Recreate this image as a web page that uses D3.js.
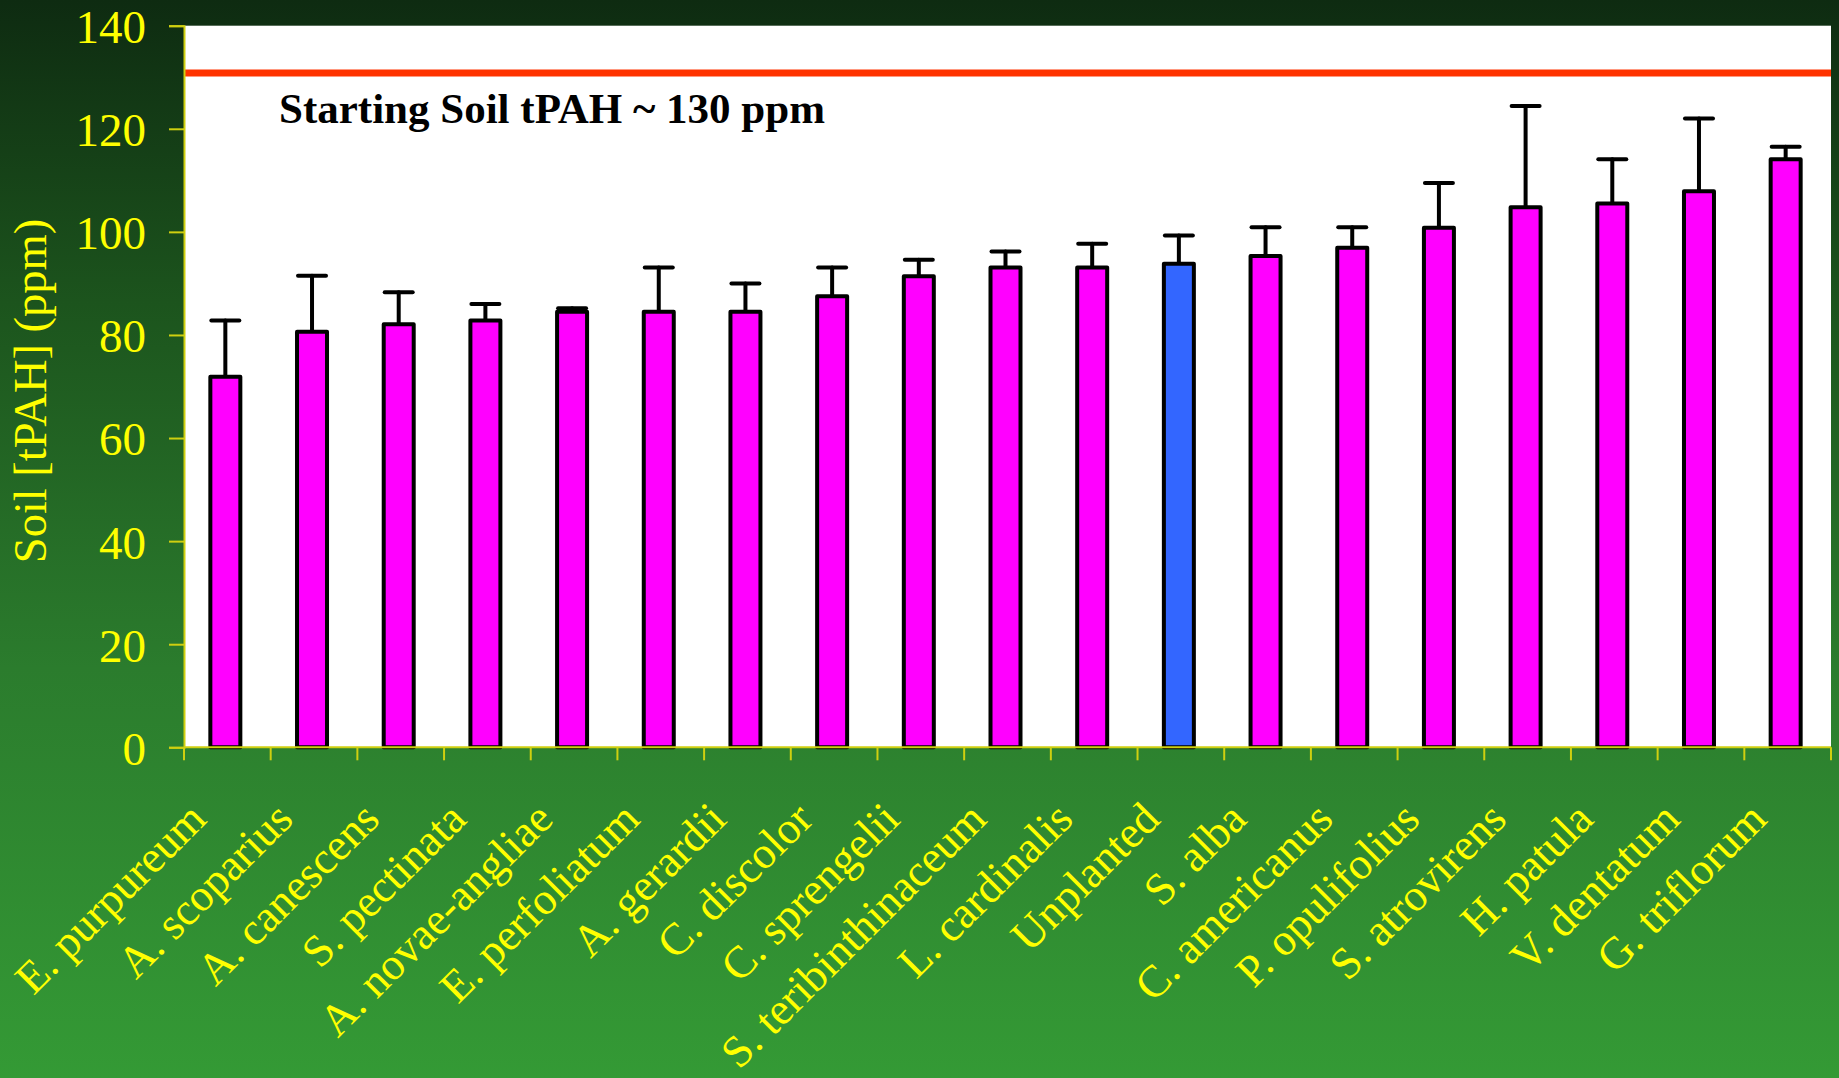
<!DOCTYPE html>
<html>
<head>
<meta charset="utf-8">
<script src="https://cdn.jsdelivr.net/npm/d3@7"></script>
<style>
  html, body { margin: 0; padding: 0; overflow: hidden; background: #1d561d; }
  svg { display: block; }
</style>
</head>
<body>
<svg id="chart" width="1839" height="1078"></svg>
<script>
// Plant species (and the unplanted control), sorted by remaining soil tPAH
const species = [
  "E. purpureum", "A. scoparius", "A. canescens", "S. pectinata",
  "A. novae-angliae", "E. perfoliatum", "A. gerardii", "C. discolor",
  "C. sprengelii", "S. teribinthinaceum", "L. cardinalis", "Unplanted",
  "S. alba", "C. americanus", "P. opulifolius", "S. atrovirens",
  "H. patula", "V. dentatum", "G. triflorum"
];
// Mean soil tPAH (ppm) after treatment
const meanTPAH = [71.9, 80.6, 82.1, 82.8, 84.5, 84.5, 84.5, 87.5, 91.4, 93.1,
                  93.1, 93.8, 95.3, 96.9, 100.8, 104.8, 105.5, 107.9, 114.1];
// Upper end of the error bar (mean + error), ppm
const upperTPAH = [82.8, 91.5, 88.3, 86.0, 85.2, 93.1, 90.0, 93.1, 94.6, 96.2,
                   97.7, 99.3, 100.9, 100.9, 109.5, 124.4, 114.1, 122.0, 116.5];
const controlName = "Unplanted";
const startingTPAH = 130.8;
const startingLabel = "Starting Soil tPAH ~ 130 ppm";
const yTicks = [0, 20, 40, 60, 80, 100, 120, 140];
const yTitle = "Soil [tPAH] (ppm)";

const svg = d3.select("#chart");
const W = 1839, H = 1078;
const plot = { left: 184, right: 1831, top: 25.7, bottom: 747.3 };

// Background gradient: dark green at the top fading to brighter green
const defs = svg.append("defs");
const grad = defs.append("linearGradient")
  .attr("id", "bg").attr("x1", 0).attr("y1", 0).attr("x2", 0).attr("y2", 1);
[[0, "#0e2b11"], [0.28, "#1c541d"], [0.62, "#2b7c2d"], [1, "#349a35"]]
  .forEach(([o, c]) => grad.append("stop").attr("offset", o).attr("stop-color", c));
svg.append("rect").attr("width", W).attr("height", H).attr("fill", "url(#bg)");

const x = d3.scaleBand().domain(species).range([plot.left, plot.right]).padding(0);
const y = d3.scaleLinear().domain([0, 140]).range([plot.bottom, plot.top]);

// White plotting area
svg.append("rect")
  .attr("x", plot.left).attr("y", y(140))
  .attr("width", plot.right - plot.left).attr("height", y(0) - y(140))
  .attr("fill", "#ffffff");

// Starting soil concentration reference line
svg.append("line")
  .attr("x1", plot.left).attr("x2", plot.right)
  .attr("y1", y(startingTPAH)).attr("y2", y(startingTPAH))
  .attr("stroke", "#ff3300").attr("stroke-width", 7);

svg.append("text")
  .attr("x", 279).attr("y", 123)
  .attr("font-family", "'Liberation Serif', 'Times New Roman', serif")
  .attr("font-weight", "bold").attr("font-size", 43)
  .attr("fill", "#000").text(startingLabel);

const barW = 30;
const cx = d => x(d) + x.bandwidth() / 2 - 2;
const rows = species.map((s, i) => ({ s, v: meanTPAH[i], u: upperTPAH[i] }));

// Error bars (upper only)
const err = svg.append("g").attr("stroke", "#000").attr("stroke-width", 4)
  .attr("stroke-linecap", "round");
err.selectAll("line.stem").data(rows).join("line").attr("class", "stem")
  .attr("x1", d => cx(d.s)).attr("x2", d => cx(d.s))
  .attr("y1", d => y(d.v)).attr("y2", d => y(d.u));
err.selectAll("line.cap").data(rows).join("line").attr("class", "cap")
  .attr("x1", d => cx(d.s) - 14).attr("x2", d => cx(d.s) + 14)
  .attr("y1", d => y(d.u)).attr("y2", d => y(d.u));

// Bars
svg.append("g").selectAll("rect").data(rows).join("rect")
  .attr("x", d => cx(d.s) - barW / 2)
  .attr("y", d => y(d.v))
  .attr("width", barW)
  .attr("height", d => y(0) - y(d.v))
  .attr("fill", d => d.s === controlName ? "#3366ff" : "#ff00ff")
  .attr("stroke", "#000").attr("stroke-width", 4)
  .attr("stroke-linejoin", "round");

// Y axis
const axisColor = "#cfcf10";
const yAxis = svg.append("g").attr("transform", `translate(${plot.left},0)`)
  .call(d3.axisLeft(y).tickValues(yTicks).tickSize(15).tickPadding(23).tickFormat(d3.format("d")));
yAxis.select(".domain").attr("stroke", axisColor).attr("stroke-width", 2);
yAxis.selectAll(".tick line").attr("stroke", axisColor).attr("stroke-width", 2);
yAxis.selectAll(".tick text")
  .attr("fill", "#ffff00")
  .attr("font-family", "'Liberation Serif', 'Times New Roman', serif")
  .attr("font-size", 47).attr("dy", "0.36em");

// X axis: tick marks on category boundaries
const xg = svg.append("g");
xg.append("line")
  .attr("x1", plot.left).attr("x2", plot.right)
  .attr("y1", y(0)).attr("y2", y(0))
  .attr("stroke", axisColor).attr("stroke-width", 2);
const bounds = species.map(s => x(s)).concat([plot.right]);
xg.selectAll("line.tick").data(bounds).join("line").attr("class", "tick")
  .attr("x1", d => d).attr("x2", d => d)
  .attr("y1", y(0)).attr("y2", y(0) + 13)
  .attr("stroke", axisColor).attr("stroke-width", 2);

// Rotated species labels
xg.selectAll("text").data(species).join("text")
  .attr("transform", d => `translate(${cx(d) - 17},${y(0) + 74}) rotate(-45)`)
  .attr("text-anchor", "end")
  .attr("fill", "#ffff00")
  .attr("font-family", "'Liberation Serif', 'Times New Roman', serif")
  .attr("font-size", 45)
  .text(d => d);

// Y axis title
svg.append("text")
  .attr("transform", "translate(46,391) rotate(-90)")
  .attr("text-anchor", "middle")
  .attr("fill", "#ffff00")
  .attr("font-family", "'Liberation Serif', 'Times New Roman', serif")
  .attr("font-size", 46.5)
  .text(yTitle);
</script>
</body>
</html>
